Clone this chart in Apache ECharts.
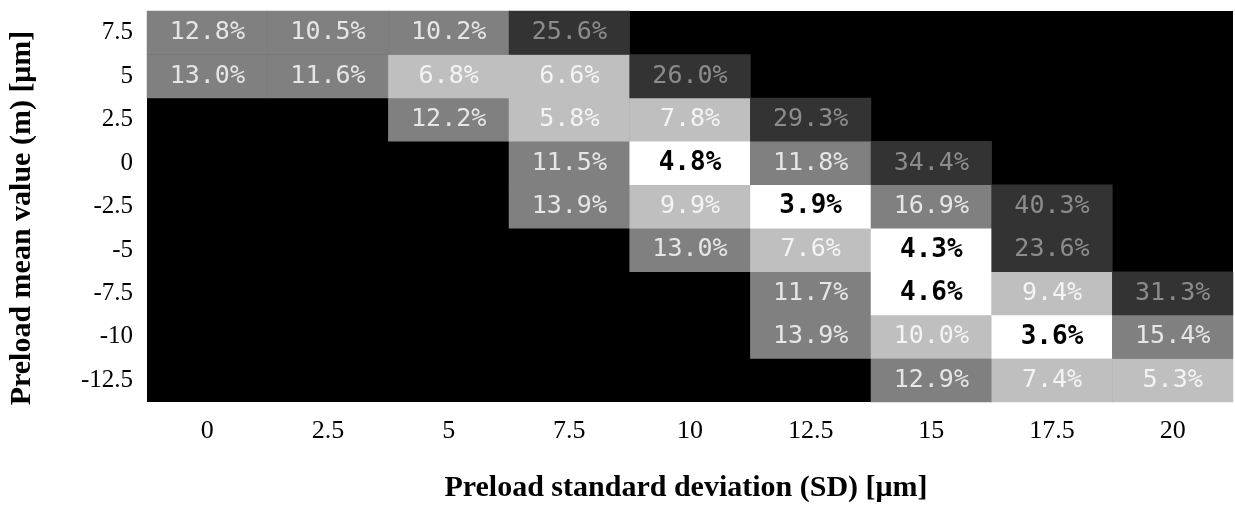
<!DOCTYPE html>
<html>
<head>
<meta charset="utf-8">
<script src="https://cdn.jsdelivr.net/npm/echarts@6/dist/echarts.min.js"></script>
<style>
  html, body { margin: 0; padding: 0; background: #fff; }
  #chart { width: 1235px; height: 509px; }
</style>
</head>
<body>
<div id="chart"></div>
<script>
// Preload standard deviation (columns) and mean value (rows), in µm
const sdLabels = ['0', '2.5', '5', '7.5', '10', '12.5', '15', '17.5', '20'];
const meanLabels = ['-12.5', '-10', '-7.5', '-5', '-2.5', '0', '2.5', '5', '7.5'];

// Error (%) per mean-value row; null = not evaluated
const row7_5  = [12.8, 10.5, 10.2, 25.6, null, null, null, null, null];
const row5    = [13.0, 11.6, 6.8, 6.6, 26.0, null, null, null, null];
const row2_5  = [null, null, 12.2, 5.8, 7.8, 29.3, null, null, null];
const row0    = [null, null, null, 11.5, 4.8, 11.8, 34.4, null, null];
const rowM2_5 = [null, null, null, 13.9, 9.9, 3.9, 16.9, 40.3, null];
const rowM5   = [null, null, null, null, 13.0, 7.6, 4.3, 23.6, null];
const rowM7_5 = [null, null, null, null, null, 11.7, 4.6, 9.4, 31.3];
const rowM10  = [null, null, null, null, null, 13.9, 10.0, 3.6, 15.4];
const rowM12_5 = [null, null, null, null, null, null, 12.9, 7.4, 5.3];

const rows = {
  '7.5': row7_5, '5': row5, '2.5': row2_5, '0': row0, '-2.5': rowM2_5,
  '-5': rowM5, '-7.5': rowM7_5, '-10': rowM10, '-12.5': rowM12_5
};

// Colour bands for the error values
function bandOf(v) {
  if (v < 5) return 0;
  if (v <= 10.05) return 1;
  if (v < 20) return 2;
  return 3;
}
const cellColors = ['#ffffff', '#bfbfbf', '#808080', '#333333'];
const textColors = ['#000000', '#f4f4f4', '#e6e6e6', '#8c8c8c'];

const cells = [];
meanLabels.forEach((m, yi) => {
  rows[m].forEach((v, xi) => {
    if (v == null) return;
    const b = bandOf(v);
    cells.push({
      value: [xi, yi, v],
      itemStyle: { color: cellColors[b] },
      label: {
        color: textColors[b],
        fontWeight: b === 0 ? 'bold' : 'normal',
        fontSize: b === 0 ? 26 : 25
      }
    });
  });
});

const serif = '"Liberation Serif", "DejaVu Serif", serif';
const chart = echarts.init(document.getElementById('chart'), null, { renderer: 'canvas' });
chart.setOption({
  backgroundColor: '#ffffff',
  animation: false,
  grid: {
    left: 147, right: 2, top: 11, bottom: 107,
    show: true, backgroundColor: '#000000', borderWidth: 0
  },
  xAxis: {
    type: 'category',
    data: sdLabels,
    axisLine: { show: false },
    axisTick: { show: false },
    splitLine: { show: false },
    axisLabel: { fontFamily: serif, fontSize: 26, color: '#000', margin: 16 }
  },
  yAxis: {
    type: 'category',
    data: meanLabels,
    axisLine: { show: false },
    axisTick: { show: false },
    splitLine: { show: false },
    axisLabel: { fontFamily: serif, fontSize: 25, color: '#000', margin: 14 }
  },
  graphic: [
    {
      type: 'text',
      x: 686, y: 488,
      style: {
        text: 'Preload standard deviation (SD) [μm]',
        font: 'bold 30px ' + serif,
        fill: '#000',
        align: 'center',
        verticalAlign: 'middle'
      }
    },
    {
      type: 'text',
      x: 22, y: 218,
      rotation: Math.PI / 2,
      style: {
        text: 'Preload mean value (m) [μm]',
        font: 'bold 30px ' + serif,
        fill: '#000',
        align: 'center',
        verticalAlign: 'middle'
      }
    }
  ],
  series: [{
    type: 'heatmap',
    data: cells,
    itemStyle: { borderWidth: 0 },
    label: {
      show: true,
      fontFamily: '"DejaVu Sans Mono", "Liberation Mono", monospace',
      formatter: p => p.value[2].toFixed(1) + '%'
    },
    emphasis: { disabled: true }
  }]
});
</script>
</body>
</html>
